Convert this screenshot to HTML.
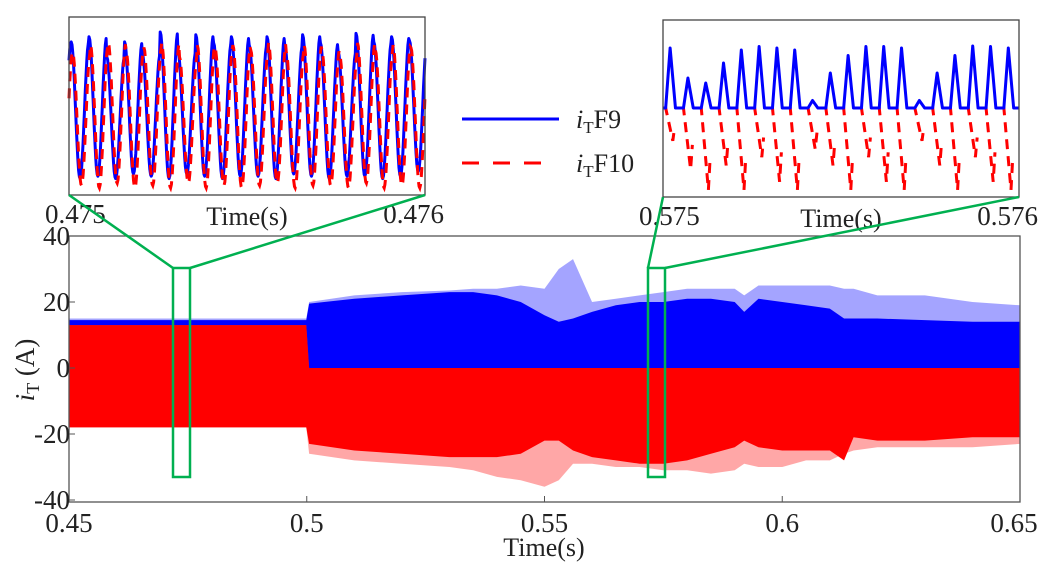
<!DOCTYPE html>
<html><head><meta charset="utf-8"><style>
body{margin:0;background:#fff;}
svg text{font-family:"Liberation Serif",serif;fill:#222;}
</style></head><body>
<svg id="c" width="1041" height="567" viewBox="0 0 1041 567" xmlns="http://www.w3.org/2000/svg">
<rect width="1041" height="567" fill="#fff"/>
<g id="main"></g>
<g id="in1"></g>
<g id="in2"></g>
<g>
<line x1="462" y1="119" x2="559" y2="119" stroke="#0000ff" stroke-width="3"/>
<text x="576" y="128" font-size="26"><tspan font-style="italic">i</tspan><tspan font-size="17" dy="5">T</tspan><tspan dy="-5">F9</tspan></text>
<line x1="462" y1="163" x2="555" y2="163" stroke="#ff0000" stroke-width="3" stroke-dasharray="17,14"/>
<text x="576" y="172" font-size="26"><tspan font-style="italic">i</tspan><tspan font-size="17" dy="5">T</tspan><tspan dy="-5">F10</tspan></text>
</g>
</svg>
<script>
// ---- main chart data ----
const envT = [0.45,0.4999,0.5005,0.51,0.52,0.53,0.535,0.54,0.545,0.55,0.553,0.556,0.56,0.565,0.57,0.575,0.58,0.585,0.59,0.592,0.595,0.6,0.605,0.61,0.613,0.615,0.62,0.63,0.64,0.65];
const blueOuter = [15,15,20,22,23,23.5,24,24,25,24,30,33,20,21,22,23,24,24,24,22,25,25,25,25,24,24,22,22,20,19];
const blueInner = [14.5,14.5,19.5,21,22,23,23,22,20,16,14,15,17,19,20,20,21,21,20,17,21,20,19,18,15,15,15,14.5,14,14];
const redTop = [13,13,0,0,0,0,0,0,0,0,0,0,0,0,0,0,0,0,0,0,0,0,0,0,0,0,0,0,0,0];
const redInner = [-18,-18,-23,-25,-26,-27,-27,-27,-26,-22,-22,-25,-27,-28,-29,-29,-28,-26,-24,-22,-24,-25,-25,-25,-28,-21,-22,-22,-21,-21];
const redOuter = [-18,-18,-26,-28,-29,-30,-31,-33,-34,-36,-34,-29,-29,-30,-30,-31,-31,-32,-31,-29,-30,-30,-28,-28,-26,-25,-24,-24,-24,-23];
const xTicks = [0.45,0.5,0.55,0.6,0.65];
const xTickLabels = ["0.45","0.5","0.55","0.6","0.65"];
const yTicks = [40,20,0,-20,-40];
const yTickLabels = ["40","20","0","-20","-40"];
// ---- inset 1 data (0.475-0.476 s) ----
const bluePk1 = [12.7,13.8,9.5,12.7,10,14.8,10.5,14.2,12.5,13.8,12,13.8,12,14.2,12.5,10.5,14.5,12.7,13.8,13];
const blueTr1 = [-16.5,-16,-16.5,-15.5,-16,-16.5,-15.5,-16,-16.5,-16,-16,-16.5,-15.5,-16,-16.5,-16,-16,-16.5,-16,-15];
const redPk1 = [10.5,12,12.5,11,11.5,12.5,9.5,12,11.5,12,11,12.5,10.5,12,11,10,12.5,11,12,11.5];
const redTr1 = [-18,-18.5,-17.5,-18.5,-18,-18.5,-17.5,-18.5,-18,-18.5,-18,-17.5,-18.5,-18,-18,-18.5,-17.5,-18.5,-18,-18.5];
// ---- inset 2 data (0.575-0.576 s) ----
const bluePk2 = [12,6,5,9,11.6,12.3,12,11.6,1.5,7,10.5,12.3,12.3,12,1.5,7,10.5,12.4,12.3,12];
const redTr2 = [-8,-15,-20,-14,-20,-12,-18,-20,-10,-14,-20,-12,-18,-20,-8,-14,-20,-12,-18,-20];

const NS="http://www.w3.org/2000/svg";
function mk(parent,tag,attrs){const e=document.createElementNS(NS,tag);for(const k in attrs)e.setAttribute(k,attrs[k]);parent.appendChild(e);return e;}

const X0=69,X1=1020,Y0=236,Y1=502;
const xs=t=>X0+(t-0.45)/0.2*(X1-X0);
const ys=v=>368-v*3.3;
const main=document.getElementById('main');
function area(top,bot,fill,op,name){
  let d="M"+envT.map((t,i)=>xs(t)+","+ys(top[i])).join(" L");
  for(let i=envT.length-1;i>=0;i--) d+=" L"+xs(envT[i])+","+ys(bot[i]);
  const p=mk(main,'path',{d:d+"Z",fill:fill,'fill-opacity':op});
  
  
}
const zeros=envT.map(()=>0);
area(blueOuter,zeros,'#5a5aff',0.55,'f9-envelope-outer');
area(blueInner,zeros,'#0000ff',1,'f9-envelope');
area(redTop,redOuter,'#ff5050',0.5,'f10-envelope-outer');
area(redTop,redInner,'#ff0000',1,'f10-envelope');
const box=mk(main,'rect',{x:X0,y:Y0,width:X1-X0,height:Y1-Y0,fill:'none',stroke:'#555','stroke-width':1.3});


xTicks.forEach((t,i)=>{
  const l=mk(main,'line',{x1:xs(t),x2:xs(t),y1:Y1,y2:Y1-6,stroke:'#555'});
  
  
  const cx=Math.min(xs(t),1014);
  const tx=mk(main,'text',{x:cx,y:532,'font-size':27,'text-anchor':'middle'});
  tx.textContent=xTickLabels[i];
  
  
});
yTicks.forEach((v,i)=>{
  const l=mk(main,'line',{x1:X0,x2:X0+6,y1:ys(v),y2:ys(v),stroke:'#555'});
  
  
  const tx=mk(main,'text',{x:X0+1,y:ys(v)+9,'font-size':27,'text-anchor':'end'});
  tx.textContent=yTickLabels[i];
  
  
});
const xt=mk(main,'text',{x:544,y:556,'font-size':26,'text-anchor':'middle'});
xt.textContent="Time(s)";


const yt=mk(main,'text',{transform:'translate(34,370) rotate(-90)','font-size':27,'text-anchor':'middle'});
yt.innerHTML='<tspan font-style="italic">i</tspan><tspan font-size="18" dy="5">T</tspan><tspan dy="-5"> (A)</tspan>';



function insetFrame(g,x0,y0,x1,y1,l,r,name){
  const f=mk(g,'rect',{x:x0,y:y0,width:x1-x0,height:y1-y0,fill:'none',stroke:'#444','stroke-width':1.3});
  
  
  const a=mk(g,'text',{x:x0-24,y:y1+28,'font-size':27});a.textContent=l;
  
  
  const b=mk(g,'text',{x:x1+19,y:y1+28,'font-size':27,'text-anchor':'end'});b.textContent=r;
  
  
  const c=mk(g,'text',{x:(x0+x1)/2,y:y1+30,'font-size':26,'text-anchor':'middle'});c.textContent="Time(s)";
  
  
}
const g1=document.getElementById('in1');
const I1={x0:69,x1:425,y0:17,y1:195};
const iy1=v=>I1.y0+(18-v)/38*(I1.y1-I1.y0);
function osc(pk,tr,phase0){
  const n=pk.length,w=(I1.x1-I1.x0)/n;let pts=[];
  const N=n*24;
  for(let j=0;j<=N;j++){
    const ph=j/24+phase0;
    let i=Math.floor(ph); if(i<0)i=0; if(i>n-1)i=n-1;
    const f=ph-Math.floor(ph);
    const mid=(pk[i]+tr[i])/2, amp=(pk[i]-tr[i])/2;
    const v=mid+amp*Math.cos(2*Math.PI*f);
    pts.push([I1.x0+j/24*w, iy1(v)]);
  }
  return "M"+pts.map(p=>p[0].toFixed(1)+","+p[1].toFixed(1)).join(" L");
}
const b1=mk(g1,'path',{d:osc(bluePk1,blueTr1,-0.12),fill:'none',stroke:'#0000ff','stroke-width':3,'stroke-linejoin':'round'});


const r1=mk(g1,'path',{d:osc(redPk1,redTr1,-0.2),fill:'none',stroke:'#ff0000','stroke-width':3,'stroke-dasharray':'10,7'});


insetFrame(g1,I1.x0,I1.y0,I1.x1,I1.y1,"0.475","0.476",'inset1');

const g2=document.getElementById('in2');
const I2={x0:663,x1:1019,y0:20,y1:197};
const iy2=v=>v>=0?108-v*5:108-v*4.1;
(function(){
  const n=bluePk2.length,w=(I2.x1-I2.x0)/n;
  let d="M"+I2.x0+","+iy2(0);
  for(let i=0;i<n;i++){const b=I2.x0+i*w;
    d+=" L"+(b+w*0.15)+","+iy2(0)+" L"+(b+w*0.4)+","+iy2(bluePk2[i])+" L"+(b+w*0.7)+","+iy2(0);}
  d+=" L"+I2.x1+","+iy2(0);
  let r="";
  for(let i=0;i<n;i++){const b=I2.x0+i*w;
    r+="M"+(b+w*0.0)+","+iy2(0)+" L"+(b+w*0.15)+","+iy2(0)+" L"+(b+w*0.55)+","+iy2(redTr2[i])+" L"+(b+w*0.65)+","+iy2(redTr2[i]*0.6)+" ";}
  const rp=mk(g2,'path',{d:r,fill:'none',stroke:'#ff0000','stroke-width':3,'stroke-dasharray':'10,7'});
  
  
  const bp=mk(g2,'path',{d:d,fill:'none',stroke:'#0000ff','stroke-width':3,'stroke-linejoin':'round'});
  
  
})();
insetFrame(g2,I2.x0,I2.y0,I2.x1,I2.y1,"0.575","0.576",'inset2');

const svg=document.getElementById('c');
[[173,190,69,425,195],[648,665,663,1019,197]].forEach((z,k)=>{
  const r=mk(svg,'rect',{x:z[0],y:268,width:z[1]-z[0],height:209,fill:'none',stroke:'#00b050','stroke-width':2.5});
  
  
  const p=mk(svg,'path',{d:`M${z[2]},${z[4]} L${z[0]},268 M${z[1]},268 L${z[3]},${z[4]}`,stroke:'#00b050','stroke-width':2.5,fill:'none'});
  
  
});
</script>
</body></html>
